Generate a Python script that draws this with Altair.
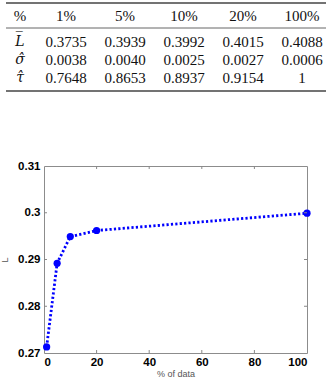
import altair as alt
import pandas as pd

# ---- data ----
pct = [1, 5, 10, 20, 100]
L_vals = [0.2713, 0.2892, 0.2949, 0.2962, 0.2999]
y_ticks = [0.27, 0.28, 0.29, 0.30, 0.31]
x_ticks = [0, 20, 40, 60, 80, 100]

tbl_cols = ["1%", "5%", "10%", "20%", "100%"]
tbl_row_labels = ["L\u0305", "\u03c3\u0302", "\u03c4\u0302"]
tbl_L = ["0.3735", "0.3939", "0.3992", "0.4015", "0.4088"]
tbl_sigma = ["0.0038", "0.0040", "0.0025", "0.0027", "0.0006"]
tbl_tau = ["0.7648", "0.8653", "0.8937", "0.9154", "1"]
tbl_corner = "%"

W, H = 263, 187
LEFT, TOP = 44, 166

df = pd.DataFrame({"pct": pct, "L": L_vals})
xs = alt.Scale(domain=[0, 100], nice=False, zero=False)
ys = alt.Scale(domain=[0.27, 0.31], nice=False, zero=False)

blue = "#0000ff"
line = alt.Chart(df).mark_line(color=blue, strokeWidth=2.8, strokeDash=[2.2, 2.2]).encode(
    x=alt.X("pct:Q", scale=xs, axis=alt.Axis(
        values=x_ticks, title="% of data", labelFont="Liberation Sans", labelFontWeight="bold",
        labelFontSize=11.5, labelColor="#000", labelPadding=3, titleFont="Liberation Sans",
        titleFontWeight="normal", titleFontSize=9, titleColor="#555", titlePadding=2,
        domain=False, ticks=False, grid=False)),
    y=alt.Y("L:Q", scale=ys, axis=alt.Axis(
        values=y_ticks, format=".2~f", title="L", labelFont="Liberation Sans", labelFontWeight="bold",
        labelFontSize=11.5, labelColor="#000", labelPadding=4, titleFont="Liberation Sans",
        titleFontWeight="normal", titleFontSize=9, titleColor="#555", titlePadding=8,
        domain=False, ticks=False, grid=False)),
)
pts = alt.Chart(df).mark_circle(color=blue, size=52, opacity=1).encode(
    x=alt.X("pct:Q", scale=xs, axis=None), y=alt.Y("L:Q", scale=ys, axis=None))

ytdf = pd.DataFrame({"v": y_ticks[1:-1]})
xtdf = pd.DataFrame({"v": x_ticks[1:-1]})
tick_col = "#888888"
lt = alt.Chart(ytdf).mark_rule(color=tick_col).encode(
    x=alt.value(0), x2=alt.value(3), y=alt.Y("v:Q", scale=ys, axis=None))
rt = alt.Chart(ytdf).mark_rule(color=tick_col).encode(
    x=alt.value(W - 3), x2=alt.value(W), y=alt.Y("v:Q", scale=ys, axis=None))
bt = alt.Chart(xtdf).mark_rule(color=tick_col).encode(
    y=alt.value(H - 3), y2=alt.value(H), x=alt.X("v:Q", scale=xs, axis=None))
tt = alt.Chart(xtdf).mark_rule(color=tick_col).encode(
    y=alt.value(0), y2=alt.value(3), x=alt.X("v:Q", scale=xs, axis=None))

# ---- table ----
rows = []
for name, vals in zip(tbl_row_labels, [tbl_L, tbl_sigma, tbl_tau]):
    for c, v in zip(tbl_cols, vals):
        rows.append({"row": name, "col": c, "txt": v})
body_df = pd.DataFrame(rows)
head_df = pd.DataFrame({"col": tbl_cols})
lab_df = pd.DataFrame({"row": tbl_row_labels})

col_scale = alt.Scale(type="point", domain=tbl_cols, range=[66 - LEFT, 302 - LEFT], padding=0)
row_scale = alt.Scale(type="point", domain=tbl_row_labels, range=[42 - TOP, 78 - TOP], padding=0)
serif = "Liberation Serif"
fs = 15

body = alt.Chart(body_df).mark_text(font=serif, fontSize=fs, color="#111", baseline="middle", align="center").encode(
    x=alt.X("col:N", scale=col_scale, axis=None),
    y=alt.Y("row:N", scale=row_scale, axis=None),
    text="txt:N")
head = alt.Chart(head_df).mark_text(font=serif, fontSize=fs, color="#111", baseline="middle", align="center").encode(
    x=alt.X("col:N", scale=col_scale, axis=None),
    y=alt.value(16 - TOP),
    text="col:N")
labs = alt.Chart(lab_df).mark_text(font="DejaVu Serif", fontSize=14, fontStyle="italic", color="#111",
                                   baseline="middle", align="center").encode(
    x=alt.value(20 - LEFT),
    y=alt.Y("row:N", scale=row_scale, axis=None),
    text="row:N")
corner = alt.Chart(pd.DataFrame({"t": [tbl_corner]})).mark_text(
    font=serif, fontSize=fs, color="#111", baseline="middle", align="center").encode(
    x=alt.value(20 - LEFT), y=alt.value(16 - TOP), text="t:N")

rule_df = pd.DataFrame({"a": [0]})
r_top = alt.Chart(rule_df).mark_rule(color="#444", strokeWidth=1.6).encode(
    x=alt.value(6 - LEFT), x2=alt.value(326 - LEFT), y=alt.value(3 - TOP))
r_mid = alt.Chart(rule_df).mark_rule(color="#666", strokeWidth=1).encode(
    x=alt.value(6 - LEFT), x2=alt.value(326 - LEFT), y=alt.value(28 - TOP))
r_bot = alt.Chart(rule_df).mark_rule(color="#444", strokeWidth=1.6).encode(
    x=alt.value(6 - LEFT), x2=alt.value(326 - LEFT), y=alt.value(91 - TOP))

chart = alt.layer(
    line, pts, lt, rt, bt, tt, body, head, labs, corner, r_top, r_mid, r_bot
).resolve_scale(x="independent", y="independent").properties(
    width=W, height=H,
    autosize=alt.AutoSizeParams(type="none"),
    padding={"left": LEFT, "top": TOP, "right": 327 - LEFT - W, "bottom": 386 - TOP - H},
    background="white",
).configure_view(stroke="#8c8c8c", strokeWidth=1)

chart.save("out.html", embed_options={"renderer": "svg", "actions": False})
